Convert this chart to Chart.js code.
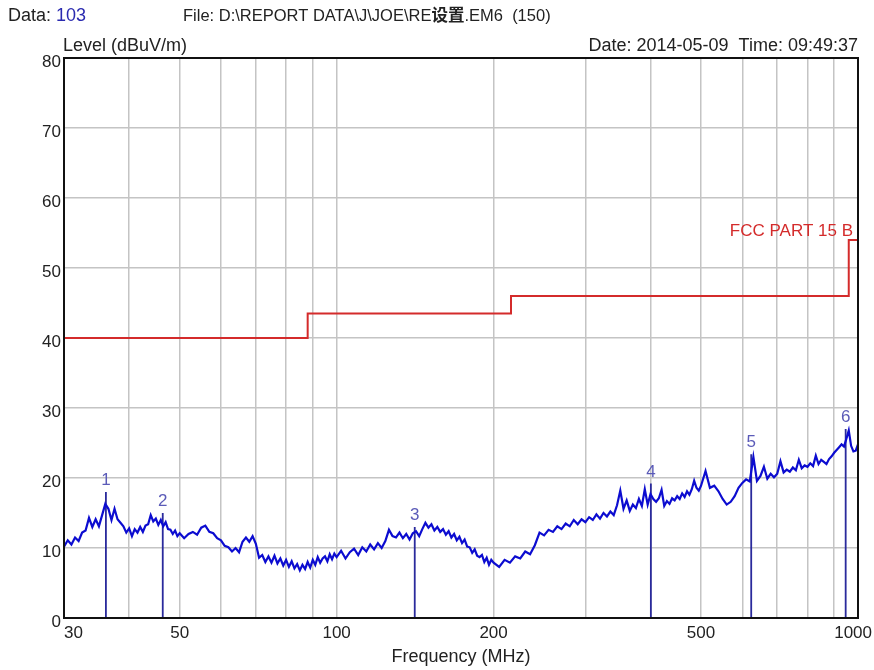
<!DOCTYPE html>
<html lang="en">
<head>
<meta charset="UTF-8">
<title>RE scan 30-1000 MHz</title>
<script src="https://cdn.jsdelivr.net/npm/chart.js@4"></script>
<style>
  html, body { margin: 0; padding: 0; background: #fff; }
  #wrap { width: 874px; height: 670px; position: relative; }
</style>
</head>
<body>
<div id="wrap"><canvas id="scan"></canvas></div>
<script>
const traceFreq = [
  30, 30.5, 31, 31.5, 32, 32.5, 33, 33.5, 34, 34.5, 35, 35.5, 36, 36.5, 37, 37.5, 38, 38.5, 39, 39.5,
  40, 40.5, 41, 41.5, 42, 42.5, 43, 43.5, 44, 44.5, 45, 45.5, 46, 46.5, 47, 47.5, 48, 48.5, 49, 49.5,
  50, 51, 52, 53, 54, 55, 56, 57, 58, 59, 60, 61, 62, 63, 64, 65, 66, 67, 68, 69,
  70, 71, 72, 73, 74, 75, 76, 77, 78, 79, 80, 81, 82, 83, 84, 85, 86, 87, 88, 89,
  90, 91, 92, 93, 94, 95, 96, 97, 98, 99,
  100, 102, 104, 106, 108, 110, 112, 114, 116, 118, 120, 122, 124, 126, 128, 130, 132, 134, 136, 138,
  140, 142, 144, 146, 148, 150, 152, 154, 156, 158, 160, 162, 164, 166, 168, 170, 172, 174, 176, 178,
  180, 182, 184, 186, 188, 190, 192, 194, 196, 198,
  200, 205, 210, 215, 220, 225, 230, 235, 240, 245, 250, 255, 260, 265, 270, 275, 280, 285, 290, 295,
  300, 305, 310, 315, 320, 325, 330, 335, 340, 345, 350, 355, 360, 365, 370, 375, 380, 385, 390, 395,
  400, 405, 410, 415, 420, 425, 430, 435, 440, 445, 450, 455, 460, 465, 470, 475, 480, 485, 490, 495,
  500, 510, 520, 530, 540, 550, 560, 570, 580, 590, 600, 610, 620, 630, 640, 650, 660, 670, 680, 690,
  700, 710, 720, 730, 740, 750, 760, 770, 780, 790, 800, 810, 820, 830, 840, 850, 860, 870, 880, 890,
  900, 910, 920, 930, 940, 950, 960, 970, 980, 990, 1000
];
const traceLevel = [
  10.2, 11.1, 10.5, 11.5, 11.0, 12.2, 12.5, 14.3, 13.0, 14.1, 13.1, 14.7, 16.3, 15.6, 14.0, 15.6, 14.1, 13.6, 13.1, 12.2,
  12.8, 11.7, 12.7, 12.2, 13.0, 12.3, 13.2, 13.4, 14.7, 13.8, 14.2, 13.3, 14.0, 13.1, 13.7, 12.7, 12.6, 12.0, 12.5, 11.7,
  12.1, 11.4, 12.0, 12.3, 11.9, 12.9, 13.2, 12.3, 12.1, 11.4, 11.1, 10.3, 10.1, 9.5, 10.0, 9.4, 10.9, 11.5, 10.9, 11.7,
  10.6, 8.6, 9.0, 8.0, 8.8, 7.9, 8.9, 7.8, 8.5, 7.5, 8.3, 7.3, 8.1, 7.1, 7.7, 6.8, 7.6, 7.0, 8.0, 7.2,
  8.3, 7.6, 8.7, 7.9, 8.5, 8.8, 8.1, 9.1, 8.4, 9.2,
  8.7, 9.6, 8.5, 9.4, 9.9, 9.0, 10.1, 9.5, 10.5, 9.8, 10.7, 10.0, 11.0, 12.6, 11.7, 11.5, 12.2, 11.4, 12.0, 11.2,
  12.1, 12.4, 11.7, 12.7, 13.6, 12.9, 13.4, 12.5, 13.0, 12.3, 12.7, 11.9, 12.4, 11.5, 12.0, 11.1, 11.6, 10.7, 11.2, 10.2,
  10.1, 9.3, 9.8, 8.9, 8.7, 9.0, 8.0, 8.6, 7.6, 8.3,
  7.9, 7.3, 8.3, 7.9, 8.8, 8.5, 9.5, 9.1, 10.4, 12.2, 11.8, 12.6, 12.3, 13.1, 12.7, 13.5, 13.1, 14.0, 13.4, 14.1,
  13.7, 14.4, 14.0, 14.8, 14.2, 15.0, 14.5, 15.2, 14.7, 16.1, 18.2, 15.6, 16.8, 15.3, 16.2, 15.7, 17.0, 16.0, 18.4, 16.2,
  17.7, 17.0, 16.6, 17.1, 18.3, 16.0, 16.7, 16.3, 17.1, 16.8, 17.4, 17.0, 17.8, 17.3, 18.1, 17.6, 18.4, 19.6, 18.6, 18.2,
  18.9, 21.0, 18.6, 18.9, 18.1, 17.0, 16.2, 16.6, 17.4, 18.6, 19.3, 19.8, 19.5, 23.0, 19.6, 20.3, 21.6, 19.9, 20.6, 20.1,
  20.6, 22.4, 20.8, 21.2, 20.9, 21.5, 21.1, 22.6, 21.4, 21.8, 21.6, 22.1, 21.7, 23.2, 22.0, 22.6, 22.3, 22.0, 22.7, 23.1,
  23.6, 24.0, 24.4, 24.8, 24.5, 25.6, 26.8, 24.6, 23.8, 23.9, 24.8
];

// FCC Part 15 B class B limit, 3 m
const limitFreq = [30, 88, 216, 960, 1000];
const limitLevel = [40, 43.5, 46, 54, 54];

// peak markers
const markerFreq = [36.1, 46.4, 141.2, 400.6, 624, 947];
const markerLevel = [18.0, 15.0, 13.0, 19.2, 23.4, 27.0];

// x grid lines and the ones that carry a label
const xGridFreq = [30, 40, 50, 60, 70, 80, 90, 100, 200, 300, 400, 500, 600, 700, 800, 900, 1000];
const xLabelFreq = [30, 50, 100, 200, 500, 1000];

const FONT = '"Liberation Sans", Arial, "Noto Sans CJK SC", sans-serif';
const TXT = '#222';

const scanText = {
  id: 'scanText',
  afterDatasetsDraw(chart) {
    const { ctx, chartArea: a, scales: { x, y } } = chart;
    ctx.save();
    // marker numbers
    ctx.font = '17px ' + FONT;
    ctx.fillStyle = '#5b5bb8';
    ctx.textAlign = 'center';
    ctx.textBaseline = 'bottom';
    markerFreq.forEach((f, i) => {
      ctx.fillText(String(i + 1), x.getPixelForValue(f), y.getPixelForValue(markerLevel[i]) - 3);
    });
    // frame
    ctx.strokeStyle = '#111';
    ctx.lineWidth = 2;
    ctx.strokeRect(a.left, a.top, a.right - a.left, a.bottom - a.top);
    ctx.restore();
  },
  afterDraw(chart) {
    const { ctx, chartArea: a, scales: { x } } = chart;
    ctx.save();

    // frequency labels, the end ones kept inside the page
    ctx.font = '17px ' + FONT;
    ctx.fillStyle = TXT;
    ctx.textAlign = 'center';
    ctx.textBaseline = 'middle';
    xLabelFreq.forEach(f => {
      const s = String(f);
      const w = ctx.measureText(s).width;
      let px = x.getPixelForValue(f);
      px = Math.max(px, a.left + w / 2);
      px = Math.min(px, chart.width - 2 - w / 2);
      ctx.fillText(s, px, a.bottom + 15);
    });

    ctx.font = '18px ' + FONT;
    ctx.textBaseline = 'alphabetic';
    ctx.textAlign = 'left';
    ctx.fillStyle = TXT;
    ctx.fillText('Data: ', 8, 21);
    ctx.fillStyle = '#2a2ab0';
    ctx.fillText('103', 8 + ctx.measureText('Data: ').width, 21);

    // file name, the chinese part is bold
    let fx = 183;
    ctx.fillStyle = TXT;
    ctx.font = '16.5px ' + FONT;
    const p1 = 'File: D:\\REPORT DATA\\J\\JOE\\RE';
    ctx.fillText(p1, fx, 21);
    fx += ctx.measureText(p1).width;
    ctx.font = 'bold 16.5px ' + FONT;
    ctx.fillText('设置', fx, 21);
    fx += ctx.measureText('设置').width;
    ctx.font = '16.5px ' + FONT;
    ctx.fillText('.EM6  (150)', fx, 21);

    ctx.font = '18px ' + FONT;
    ctx.fillText('Level (dBuV/m)', a.left - 1, 51);
    ctx.textAlign = 'right';
    ctx.fillText('Date: 2014-05-09  Time: 09:49:37', a.right, 51);

    ctx.font = '17px ' + FONT;
    ctx.fillStyle = '#d42b2b';
    ctx.fillText('FCC PART 15 B', a.right - 5, 236);
    ctx.restore();
  }
};

const toPoints = (xs, ys) => xs.map((v, i) => ({ x: v, y: ys[i] }));
// each marker: a stick from 0 up to its level, broken by a null
const markerPoints = markerFreq.flatMap((f, i) => [
  { x: f, y: 0 }, { x: f, y: markerLevel[i] }, { x: f, y: null }
]);

new Chart(document.getElementById('scan'), {
  type: 'line',
  data: {
    datasets: [
      {
        label: 'FCC PART 15 B',
        data: toPoints(limitFreq, limitLevel),
        stepped: true,
        borderColor: '#d42b2b',
        borderWidth: 2,
        pointRadius: 0
      },
      {
        label: 'Level',
        data: toPoints(traceFreq, traceLevel),
        borderColor: '#0c0cd0',
        borderWidth: 2.2,
        pointRadius: 0,
        tension: 0
      },
      {
        label: 'Markers',
        data: markerPoints,
        borderColor: '#2a2a9c',
        borderWidth: 1.8,
        pointRadius: 0,
        spanGaps: false
      }
    ]
  },
  options: {
    responsive: true,
    maintainAspectRatio: false,
    animation: false,
    layout: { padding: { top: 58, right: 16, left: 0, bottom: 0 } },
    plugins: {
      legend: { display: false },
      tooltip: { enabled: false }
    },
    scales: {
      x: {
        type: 'logarithmic',
        min: 30,
        max: 1000,
        afterBuildTicks: s => { s.ticks = xGridFreq.map(v => ({ value: v })); },
        afterFit: s => { s.height = 52; s.paddingLeft = 0; s.paddingRight = 0; },
        grid: { color: '#c4c4c4', lineWidth: 1.5, drawTicks: false },
        border: { color: '#111', width: 2 },
        ticks: { display: false },
        title: {
          display: true,
          text: 'Frequency (MHz)',
          color: TXT,
          font: { family: FONT, size: 18 },
          padding: { top: 0, bottom: 2 }
        }
      },
      y: {
        min: 0,
        max: 80,
        afterFit: s => { s.width = 64; },
        grid: { color: '#c4c4c4', lineWidth: 1.5, drawTicks: false },
        border: { color: '#111', width: 2 },
        ticks: {
          stepSize: 10,
          padding: 3,
          labelOffset: 4,
          color: TXT,
          font: { family: FONT, size: 17 }
        }
      }
    }
  },
  plugins: [scanText]
});
</script>
</body>
</html>
